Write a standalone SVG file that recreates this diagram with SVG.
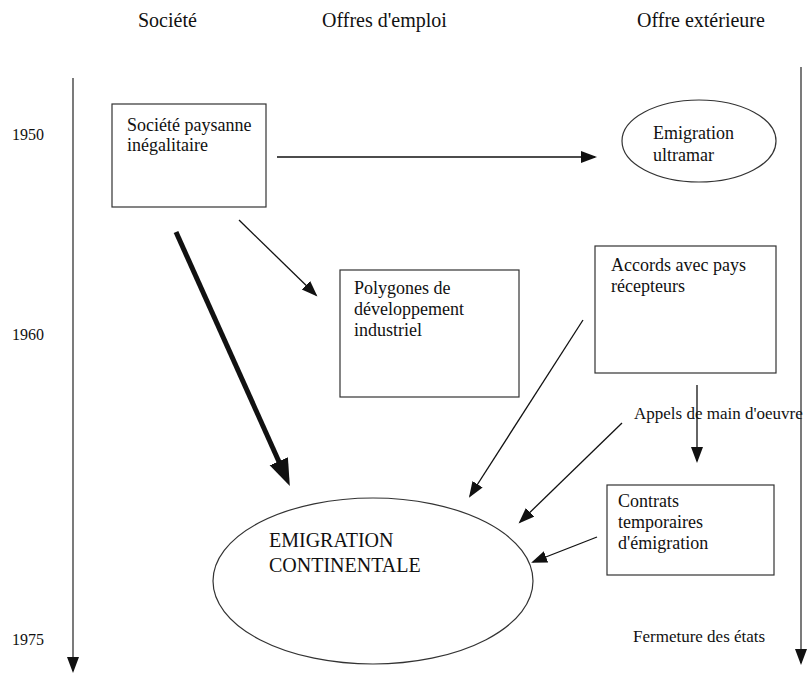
<svg xmlns="http://www.w3.org/2000/svg" width="811" height="675" viewBox="0 0 811 675">
<style>
text { font-family: "Liberation Serif", "Tinos", "Times New Roman", "DejaVu Serif", serif; fill: #111; }
.head { font-size: 20px; }
.year { font-size: 16px; }
.lbl { font-size: 18px; }
.sm { font-size: 17px; }
.big { font-size: 20px; }
.box { fill: #fff; stroke: #333; stroke-width: 1.2; }
.conn { stroke: #111; stroke-width: 1.3; fill: none; marker-end: url(#ah); }
.thick { stroke: #111; stroke-width: 5; fill: none; marker-end: url(#ahBig); }
.axis { stroke: #333; stroke-width: 1.3; fill: none; marker-end: url(#ah); }
</style>
<defs>
<marker id="ah" markerUnits="userSpaceOnUse" markerWidth="18" markerHeight="14" refX="14" refY="6" orient="auto">
<path d="M0,0 L16,6 L0,12 z" fill="#111"/>
</marker>
<marker id="ahBig" markerUnits="userSpaceOnUse" markerWidth="30" markerHeight="22" refX="3" refY="10" orient="auto">
<path d="M0,0 L27,10 L0,20 z" fill="#111"/>
</marker>
</defs>
<rect width="811" height="675" fill="#fff"/>

<g id="headings">
<text class="head" x="138" y="27">Société</text>
<text class="head" x="322" y="27">Offres d'emploi</text>
<text class="head" x="637" y="27">Offre extérieure</text>
</g>

<g id="timeline">
<line class="axis" x1="73" y1="78" x2="73" y2="671"/>
<line class="axis" x1="801" y1="67" x2="801" y2="663"/>
<text class="year" x="12" y="140">1950</text>
<text class="year" x="12" y="340">1960</text>
<text class="year" x="12" y="645">1975</text>
</g>

<g id="connectors">
<line class="conn" x1="277" y1="157" x2="595" y2="157"/>
<line class="conn" x1="239" y1="220" x2="316" y2="295"/>
<line class="thick" x1="176" y1="232" x2="280" y2="464"/>
<line class="conn" x1="583" y1="320" x2="470" y2="496"/>
<line class="conn" x1="697" y1="385" x2="697" y2="461"/>
<line class="conn" x1="622" y1="423" x2="520" y2="522"/>
<line class="conn" x1="597" y1="537" x2="533" y2="562"/>
</g>

<g id="societe-paysanne">
<rect class="box" x="112" y="104" width="154" height="103"/>
<text class="lbl" x="127" y="131">Société paysanne</text>
<text class="lbl" x="127" y="151">inégalitaire</text>
</g>

<g id="emigration-ultramar">
<ellipse class="box" cx="699" cy="141" rx="77" ry="41"/>
<text class="lbl" x="653" y="139">Emigration</text>
<text class="lbl" x="653" y="161">ultramar</text>
</g>

<g id="polygones">
<rect class="box" x="340" y="270" width="179" height="127"/>
<text class="lbl" x="354" y="294">Polygones de</text>
<text class="lbl" x="354" y="315">développement</text>
<text class="lbl" x="354" y="336">industriel</text>
</g>

<g id="accords">
<rect class="box" x="595" y="246" width="181" height="127"/>
<text class="lbl" x="611" y="271">Accords avec pays</text>
<text class="lbl" x="611" y="292">récepteurs</text>
</g>

<g id="appels">
<text class="sm" x="634" y="419">Appels de main d'oeuvre</text>
</g>

<g id="contrats">
<rect class="box" x="607" y="485" width="167" height="90"/>
<text class="lbl" x="618" y="507">Contrats</text>
<text class="lbl" x="618" y="528">temporaires</text>
<text class="lbl" x="618" y="549">d'émigration</text>
</g>

<g id="emigration-continentale">
<ellipse class="box" cx="373" cy="581" rx="160" ry="83"/>
<text class="big" x="269" y="547">EMIGRATION</text>
<text class="big" x="269" y="572">CONTINENTALE</text>
</g>

<g id="fermeture">
<text class="sm" x="633" y="642">Fermeture des états</text>
</g>
</svg>
